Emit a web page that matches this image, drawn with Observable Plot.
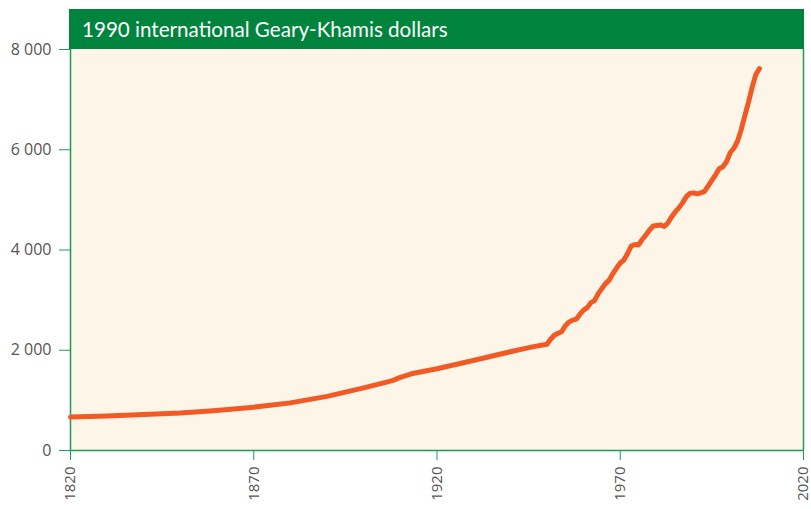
<!DOCTYPE html>
<html>
<head>
<meta charset="utf-8">
<script src="https://cdn.jsdelivr.net/npm/d3@7"></script>
<script src="https://cdn.jsdelivr.net/npm/@observablehq/plot@0.6"></script>
<style>
  html, body { margin: 0; padding: 0; background: #fff; }
  #chart svg { display: block; }
</style>
</head>
<body>
<div id="chart"></div>
<script>
const title = "1990 international Geary-Khamis dollars";

const years = [
  1820, 1830, 1840, 1850, 1858, 1863, 1870, 1880, 1890, 1900, 1906, 1908, 1910, 1913,
  1920, 1929, 1940, 1946, 1950,
  1951, 1952, 1953, 1954, 1955, 1956, 1957, 1958, 1959, 1960,
  1961, 1962, 1963, 1964, 1965, 1966, 1967, 1968, 1969, 1970,
  1971, 1972, 1973, 1974, 1975, 1976, 1977, 1978, 1979, 1980,
  1981, 1982, 1983, 1984, 1985, 1986, 1987, 1988, 1989, 1990,
  1991, 1992, 1993, 1994, 1995, 1996, 1997, 1998, 1999, 2000,
  2001, 2002, 2003, 2004, 2005, 2006, 2007, 2008
];
const gdpPerCapita = [
  667, 690, 720, 750, 790, 820, 865, 950, 1080, 1250, 1360, 1400, 1460, 1530,
  1630, 1780, 1970, 2067, 2120,
  2220, 2300, 2340, 2370, 2490, 2560, 2600, 2620, 2720, 2800,
  2850, 2950, 2990, 3130, 3230, 3330, 3400, 3530, 3640, 3740,
  3800, 3930, 4080, 4110, 4100, 4210, 4300, 4400, 4480, 4490,
  4500, 4470, 4540, 4660, 4760, 4840, 4940, 5060, 5130, 5140,
  5120, 5140, 5170, 5280, 5390, 5500, 5620, 5660, 5760, 5940,
  6030, 6170, 6400, 6680, 6950, 7250, 7500, 7620
];
const xTicks = [1820, 1870, 1920, 1970, 2020];
const yTicks = [0, 2000, 4000, 6000, 8000];

const data = years.map((y, i) => ({year: y, value: gdpPerCapita[i]}));

const green = "#00843d";
const axisGreen = "#1f9a57";

const header = (index, scales, values, dims) => {
  const g = d3.create("svg:g");
  const x0 = dims.marginLeft - 1;
  const x1 = dims.width - dims.marginRight;
  g.append("rect")
    .attr("x", x0).attr("y", 9)
    .attr("width", x1 - x0 + 1).attr("height", dims.marginTop - 9)
    .attr("fill", green);
  g.append("text")
    .attr("x", x0 + 13).attr("y", 36.5)
    .attr("text-anchor", "start")
    .attr("fill", "#fff")
    .attr("font-size", 20.6)
    .attr("font-family", "Lato, 'Open Sans', sans-serif")
    .text(title);
  return g.node();
};

const chart = Plot.plot({
  width: 811,
  height: 509,
  marginLeft: 70,
  marginRight: 8,
  marginTop: 49,
  marginBottom: 59,
  style: {
    fontFamily: "'Open Sans', 'Noto Sans', sans-serif",
    fontSize: "16px",
    color: "#555",
    background: "#ffffff",
    overflow: "visible"
  },
  x: {domain: [1820, 2020], label: null},
  y: {domain: [0, 8000], label: null},
  marks: [
    Plot.frame({fill: "#fcf5e8", stroke: null}),
    Plot.axisY({
      ticks: yTicks, tickSize: 11, tickPadding: 8,
      stroke: axisGreen, strokeOpacity: 1, fill: "#555",
      tickFormat: d => d3.format(",")(d).replace(/,/g, " "),
      label: null
    }),
    Plot.axisX({
      ticks: xTicks, tickSize: 10, tickPadding: 6, tickRotate: -90,
      stroke: axisGreen, strokeOpacity: 1, fill: "#555",
      fontSize: 15,
      tickFormat: d => String(d),
      label: null
    }),
    Plot.ruleX([1820, 2020], {stroke: axisGreen, strokeWidth: 1.5}),
    Plot.ruleY([0], {stroke: axisGreen, strokeWidth: 1.5}),
    Plot.line(data, {
      x: "year", y: "value",
      stroke: "#f15a24", strokeWidth: 5,
      strokeLinecap: "round", strokeLinejoin: "round"
    }),
    header
  ]
});
document.getElementById("chart").appendChild(chart);
</script>
</body>
</html>
